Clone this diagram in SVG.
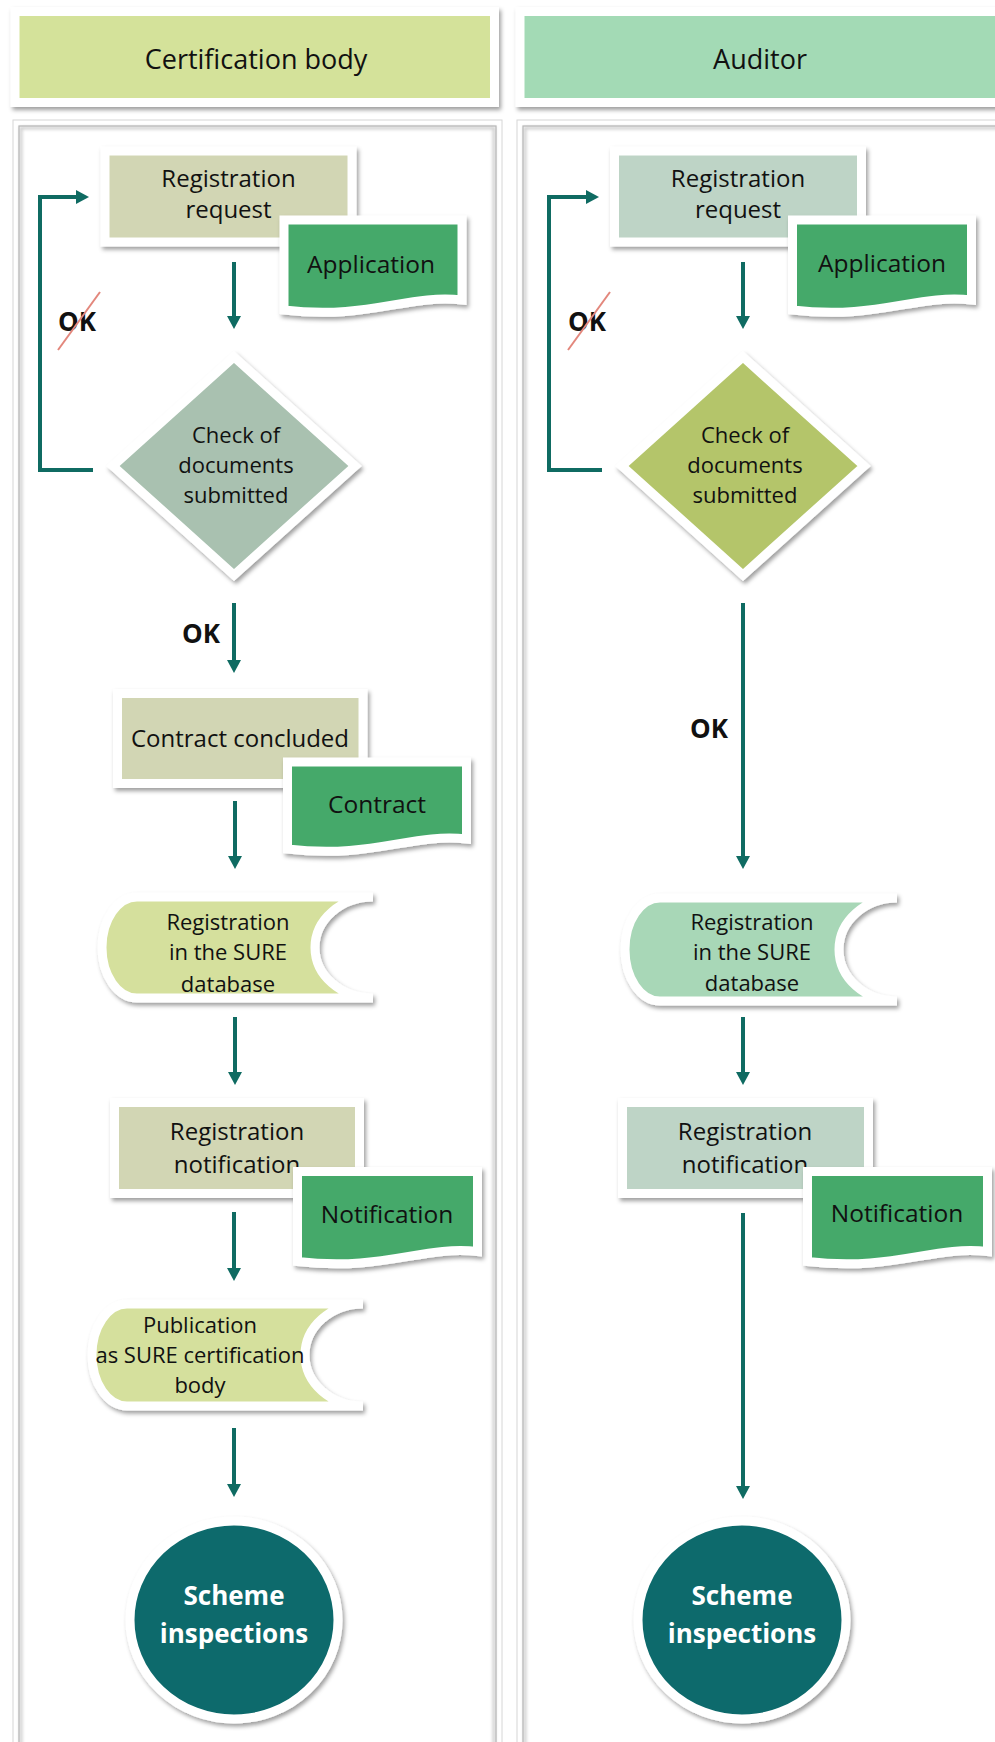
<svg xmlns="http://www.w3.org/2000/svg" width="995" height="1742" viewBox="0 0 995 1742">
<defs>
<filter id="sh" x="-20%" y="-20%" width="140%" height="140%">
<feDropShadow dx="2" dy="3" stdDeviation="2.2" flood-color="#000" flood-opacity="0.38"/>
</filter>
<filter id="psh" x="-5%" y="-5%" width="110%" height="110%">
<feGaussianBlur stdDeviation="1.5"/>
</filter>
<marker id="ah" markerUnits="userSpaceOnUse" markerWidth="16" markerHeight="16" refX="2" refY="7" orient="auto">
<path d="M0,0 L13,7 L0,14 z" fill="#0f6b62"/>
</marker>
<style>
.node{stroke:#fff;stroke-width:9;filter:url(#sh);stroke-linejoin:miter}
.t{font-family:"Open Sans","Liberation Sans",sans-serif;fill:#111;text-anchor:middle}
.h{font-size:27px}
.r{font-size:24px}
.d{font-size:24.5px}
.s{font-size:22px}
.c{font-size:26px;font-weight:bold;fill:#fff}
.ok{font-family:"Open Sans","Liberation Sans",sans-serif;font-size:26px;font-weight:bold;fill:#111}
.conn{stroke:#0f6b62;stroke-width:4;fill:none}
.strike{stroke:#e3877c;stroke-width:2}
.lrect{fill:#d2d6b4}
.rrect{fill:#bed4c6}
.doc{fill:#45a96b}
.lsd{fill:#d5e09d}
.rsd{fill:#a8d7b7}
.circ{fill:#0f6a6c}
</style>
</defs>
<rect width="995" height="1742" fill="#fff"/>

<g id="panels">
<rect x="13" y="120" width="489" height="1640" fill="#fff" stroke="#d6d6d6" stroke-width="1"/>
<rect x="21" y="128" width="473" height="1620" fill="none" stroke="#cfcfcf" stroke-width="3" filter="url(#psh)"/>
<rect x="19" y="126" width="477" height="1624" fill="none" stroke="#b5b5b5" stroke-width="1.2"/>
<rect x="517" y="120" width="500" height="1640" fill="#fff" stroke="#d6d6d6" stroke-width="1"/>
<rect x="525" y="128" width="490" height="1620" fill="none" stroke="#cfcfcf" stroke-width="3" filter="url(#psh)"/>
<rect x="523" y="126" width="494" height="1624" fill="none" stroke="#b5b5b5" stroke-width="1.2"/>
</g>

<g id="header-cb">
<rect class="node" x="15" y="11.5" width="479.5" height="91" fill="#d4e29a"/>
<text class="t h" x="256" y="69">Certification body</text>
</g>
<g id="header-auditor">
<rect class="node" x="520" y="11.5" width="490" height="91" fill="#a3dab5"/>
<text class="t h" x="760" y="69">Auditor</text>
</g>

<g id="connectors">
<path class="conn" d="M93,470 H40 V197 H78" marker-end="url(#ah)"/>
<line class="conn" x1="234" y1="262" x2="234" y2="318" marker-end="url(#ah)"/>
<line class="conn" x1="234" y1="603" x2="234" y2="662" marker-end="url(#ah)"/>
<line class="conn" x1="235" y1="801" x2="235" y2="858" marker-end="url(#ah)"/>
<line class="conn" x1="235" y1="1017" x2="235" y2="1074" marker-end="url(#ah)"/>
<line class="conn" x1="234" y1="1212" x2="234" y2="1270" marker-end="url(#ah)"/>
<line class="conn" x1="234" y1="1428" x2="234" y2="1486" marker-end="url(#ah)"/>
<path class="conn" d="M602,470 H549 V197 H588" marker-end="url(#ah)"/>
<line class="conn" x1="743" y1="262" x2="743" y2="318" marker-end="url(#ah)"/>
<line class="conn" x1="743" y1="603" x2="743" y2="858" marker-end="url(#ah)"/>
<line class="conn" x1="743" y1="1017" x2="743" y2="1074" marker-end="url(#ah)"/>
<line class="conn" x1="743" y1="1213" x2="743" y2="1488" marker-end="url(#ah)"/>
<text class="ok" x="58" y="331">OK</text>
<line class="strike" x1="58" y1="350" x2="100" y2="292"/>
<text class="ok" x="182" y="643">OK</text>
<text class="ok" x="568" y="331">OK</text>
<line class="strike" x1="568" y1="350" x2="610" y2="292"/>
<text class="ok" x="690" y="738">OK</text>
</g>

<!-- Certification body column -->
<g id="cb-registration-request">
<rect class="node lrect" x="105" y="151" width="247" height="91"/>
<text class="t r" x="228.5" y="187">Registration</text>
<text class="t r" x="228.5" y="218">request</text>
</g>
<g id="cb-application">
<path class="node doc" d="M284,220 H462 V300 C407,294 369,320 284,310 Z"/>
<text class="t d" x="371" y="273">Application</text>
</g>
<g id="cb-check">
<path class="node" fill="#a9c1b0" d="M234,357 L355,466 L234,575 L113,466 Z"/>
<text class="t s" x="236" y="443">Check of</text>
<text class="t s" x="236" y="473">documents</text>
<text class="t s" x="236" y="503">submitted</text>
</g>
<g id="cb-contract-concluded">
<rect class="node lrect" x="117.5" y="693.5" width="245.5" height="90"/>
<text class="t r" x="240" y="747">Contract concluded</text>
</g>
<g id="cb-contract">
<path class="node doc" d="M287.5,762 H466.5 V839 C411,833 373,859 287.5,849 Z"/>
<text class="t d" x="377" y="813">Contract</text>
</g>
<g id="cb-sure-db">
<path class="node lsd" d="M137,897 H373 A58,50.5 0 0 0 373,998 H137 A35,50.5 0 0 1 137,897 Z"/>
<text class="t s" x="228" y="930">Registration</text>
<text class="t s" x="228" y="960">in the SURE</text>
<text class="t s" x="228" y="992">database</text>
</g>
<g id="cb-registration-notification">
<rect class="node lrect" x="114.5" y="1102.5" width="245" height="91"/>
<text class="t r" x="237" y="1140">Registration</text>
<text class="t r" x="237" y="1173">notification</text>
</g>
<g id="cb-notification">
<path class="node doc" d="M297.5,1171.5 H477.5 V1251.5 C422,1245.5 384,1271.5 297.5,1261.5 Z"/>
<text class="t d" x="387" y="1223">Notification</text>
</g>
<g id="cb-publication">
<path class="node lsd" d="M127,1304 H363 A58,51 0 0 0 363,1406 H127 A35,51 0 0 1 127,1304 Z"/>
<text class="t s" x="200" y="1333">Publication</text>
<text class="t s" x="200" y="1363">as SURE certification</text>
<text class="t s" x="200" y="1393">body</text>
</g>
<g id="cb-scheme-inspections">
<ellipse class="node circ" cx="234" cy="1620" rx="104" ry="99"/>
<text class="t c" x="234" y="1605">Scheme</text>
<text class="t c" x="234" y="1643">inspections</text>
</g>

<!-- Auditor column -->
<g id="au-registration-request">
<rect class="node rrect" x="614.5" y="151" width="247" height="91"/>
<text class="t r" x="738" y="187">Registration</text>
<text class="t r" x="738" y="218">request</text>
</g>
<g id="au-application">
<path class="node doc" d="M792.5,220 H971.5 V300 C916,294 878,320 792.5,310 Z"/>
<text class="t d" x="882" y="272">Application</text>
</g>
<g id="au-check">
<path class="node" fill="#b4c56b" d="M743,357 L864,466 L743,575 L622,466 Z"/>
<text class="t s" x="745" y="443">Check of</text>
<text class="t s" x="745" y="473">documents</text>
<text class="t s" x="745" y="503">submitted</text>
</g>
<g id="au-sure-db">
<path class="node rsd" d="M660,898 H897 A58,51.5 0 0 0 897,1001 H660 A35,51.5 0 0 1 660,898 Z"/>
<text class="t s" x="752" y="930">Registration</text>
<text class="t s" x="752" y="960">in the SURE</text>
<text class="t s" x="752" y="991">database</text>
</g>
<g id="au-registration-notification">
<rect class="node rrect" x="622.5" y="1102.5" width="246" height="91"/>
<text class="t r" x="745" y="1140">Registration</text>
<text class="t r" x="745" y="1173">notification</text>
</g>
<g id="au-notification">
<path class="node doc" d="M807.5,1171.5 H987.5 V1251.5 C932,1245.5 894,1271.5 807.5,1261.5 Z"/>
<text class="t d" x="897" y="1222">Notification</text>
</g>
<g id="au-scheme-inspections">
<ellipse class="node circ" cx="742" cy="1620" rx="104" ry="99"/>
<text class="t c" x="742" y="1605">Scheme</text>
<text class="t c" x="742" y="1643">inspections</text>
</g>
</svg>
